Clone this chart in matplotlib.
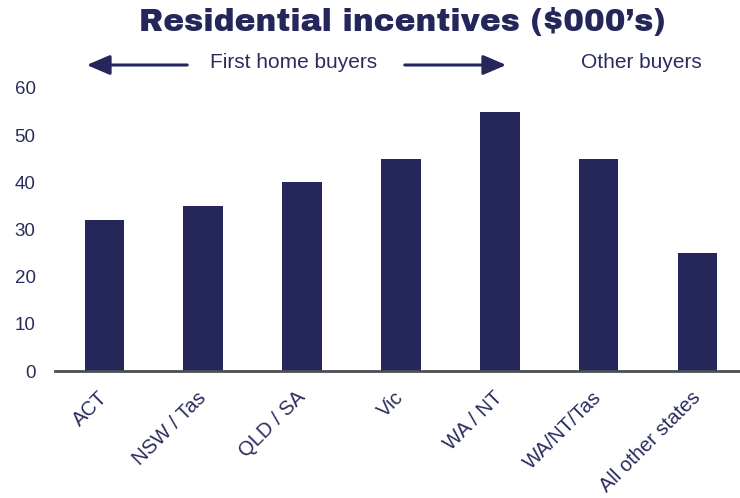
import numpy as np
import matplotlib.pyplot as plt
from matplotlib.patches import FancyArrowPatch

categories = ['ACT', 'NSW / Tas', 'QLD / SA', 'Vic', 'WA / NT', 'WA/NT/Tas', 'All other states']
values = [32, 35, 40, 45, 55, 45, 25]
yticks = [0, 10, 20, 30, 40, 50, 60]

navy = '#25265a'
txt = '#2b2c5e'

plt.rcParams['font.family'] = ['Liberation Sans', 'DejaVu Sans']

fig = plt.figure(figsize=(7.4, 4.98), dpi=100)
ax = fig.add_axes([55 / 740, 127 / 498, 1 - 55 / 740, (371 - 88) / 498])

x = np.arange(len(categories))
ax.bar(x, values, width=0.4, color=navy, zorder=2)

ax.set_xlim(-0.5, 6.43)
ax.set_ylim(0, 60)
ax.set_yticks(yticks)
ax.set_yticklabels([str(v) for v in yticks], fontsize=13.5, color=txt)
ax.set_xticks(x)
ax.set_xticklabels(categories, rotation=45, ha='right', va='center', rotation_mode='anchor',
                   fontsize=14.5, color=txt)
ax.tick_params(axis='both', length=0)
ax.tick_params(axis='y', pad=14)
ax.tick_params(axis='x', pad=17)

for s in ['top', 'right', 'left']:
    ax.spines[s].set_visible(False)
ax.spines['bottom'].set_color('#4b4f55')
ax.spines['bottom'].set_linewidth(2)

fig.text(402 / 740, 1 - 22 / 498, 'Residential incentives ($000\u2019s)', ha='center', va='center',
         fontsize=22.5, fontweight='bold', color=navy, family=['Archivo Black', 'Liberation Sans'])

# arrows and buyer labels
ay = 1 - 65 / 498
fig.text(294 / 740, 1 - 63 / 498, 'First home buyers', ha='center', va='center', fontsize=15, color=txt)
fig.text(641 / 740, 1 - 63 / 498, 'Other buyers', ha='center', va='center', fontsize=15, color=txt)
for start, end in [((190 / 740, ay), (84 / 740, ay)), ((402 / 740, ay), (509 / 740, ay))]:
    fig.patches.append(FancyArrowPatch(start, end, transform=fig.transFigure,
                                       arrowstyle='-|>,head_length=14,head_width=6',
                                       color=navy, lw=2.2, mutation_scale=1))

fig.savefig('out.png', dpi=100)
